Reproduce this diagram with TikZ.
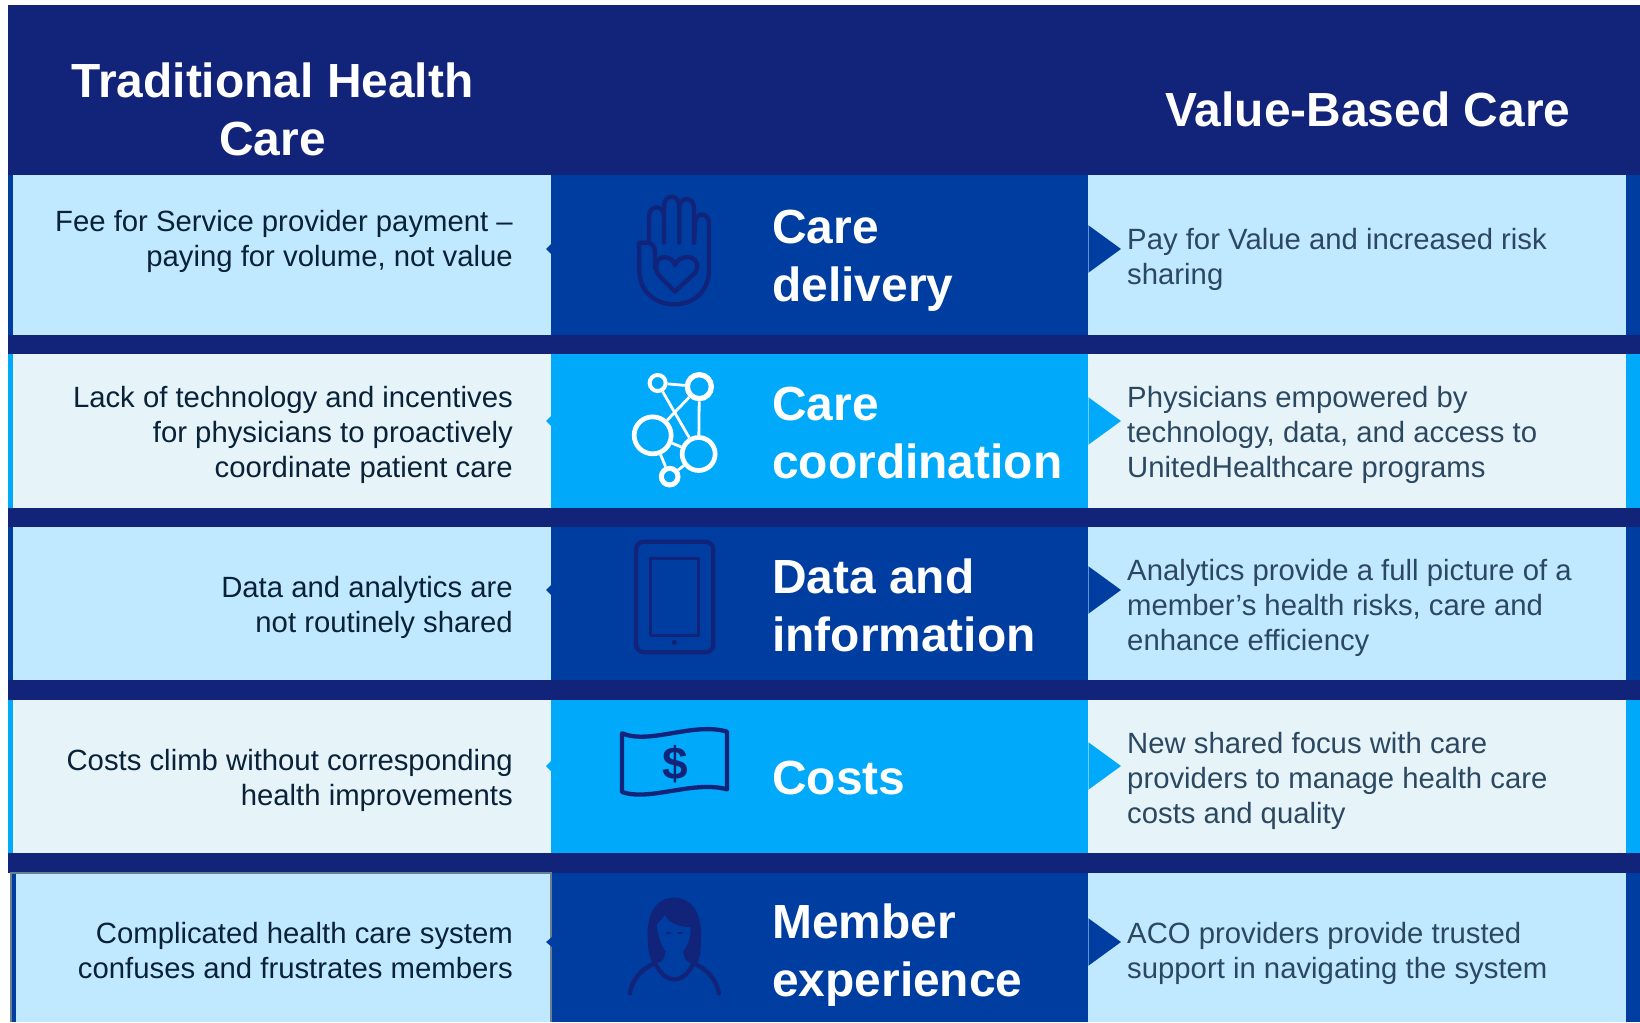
\documentclass[tikz,border=0pt]{standalone}
\usepackage{fontspec}
\setmainfont{Liberation Sans}
\definecolor{navy}{HTML}{12237A}
\definecolor{royal}{HTML}{003DA1}
\definecolor{sky}{HTML}{00A9FA}
\definecolor{lightblue}{HTML}{C0E9FF}
\definecolor{palecyan}{HTML}{E6F4FA}
\definecolor{lefttext}{HTML}{0A2238}
\definecolor{righttext}{HTML}{2C4860}
\tikzset{
  titletext/.style={text=white,font=\fontsize{47.9}{58}\selectfont\bfseries,align=center,inner sep=0pt},
  cattext/.style={text=white,font=\fontsize{47.9}{58}\selectfont\bfseries,align=left,inner sep=0pt,anchor=base west},
  lefttxt/.style={text=lefttext,font=\fontsize{29.3}{35}\selectfont,align=right,inner sep=0pt,anchor=base east},
  righttxt/.style={text=righttext,font=\fontsize{29.3}{35}\selectfont,align=left,inner sep=0pt,anchor=base west},
  iconline/.style={draw=navy,line width=4.3pt,line cap=round,line join=round},
  netnode/.style={circle,draw=white,inner sep=0pt,fill=none},
  netlink/.style={draw=white,line width=2.8pt}
}
% band: top, bottom, band colour, panel colour, arrow mid y
\newcommand{\rowband}[5]{%
  \fill[#4] (13,#1) rectangle (1626,#2);
  \fill[#3] (551,#1) rectangle (1088,#2);
  \fill[#3] (1626,#1) rectangle (1640,#2);
  \fill[#3] (8,#1) rectangle (13,#2);
  \fill[#3] (1088,#5-24) -- (1121,#5) -- (1088,#5+24) -- cycle;
  \draw[draw=#4,line width=.5pt,opacity=.5] (1088,#5-24) -- (1088,#5+24);
  \fill[#3] (551,#5-5) -- (546,#5) -- (551,#5+5) -- cycle;
}
\begin{document}
\begin{tikzpicture}[x=1pt,y=-1pt]
\useasboundingbox (0,0) rectangle (1640,1022);
\fill[white] (0,0) rectangle (1640,1022);
\fill[navy] (8,5) rectangle (1640,1022);
\rowband{175}{335}{royal}{lightblue}{249}
\rowband{354}{508}{sky}{palecyan}{421}
\rowband{527}{680}{royal}{lightblue}{590}
\rowband{700}{853}{sky}{palecyan}{766}
\rowband{873}{1022}{royal}{lightblue}{942}
% last row: shifted left cell with grey outline
\fill[white] (8,873) rectangle (11,1022);
\fill[lightblue] (11,873) rectangle (551,1022);
\fill[royal] (11,873) rectangle (16,1022);
\draw[draw=black!45!lightblue,line width=2pt] (11,1022) -- (11,873) -- (551,873) -- (551,1022);
\fill[royal] (552,937) -- (546,942) -- (552,947) -- cycle;

% titles
\node[titletext] (titleL) at (272.5,109.5) {Traditional Health\\Care};
\node[titletext,anchor=base] (titleR) at (1368,127) {Value-Based Care};

% categories (anchor is the last line's baseline)
\node[cattext] (cat1) at (772,301) {Care\\delivery};
\node[cattext] (cat2) at (772,478) {Care\\coordination};
\node[cattext] (cat3) at (772,651) {Data and\\information};
\node[cattext] (cat4) at (772,794) {Costs};
\node[cattext] (cat5) at (772,996) {Member\\experience};

% left texts
\node[lefttxt] (l1) at (513,266) {Fee for Service provider payment –\\paying for volume, not value};
\node[lefttxt] (l2) at (513,477) {Lack of technology and incentives\\for physicians to proactively\\coordinate patient care};
\node[lefttxt] (l3) at (513,632.5) {Data and analytics are\\not routinely shared};
\node[lefttxt] (l4) at (513,805) {Costs climb without corresponding\\health improvements};
\node[lefttxt] (l5) at (513,978) {Complicated health care system\\confuses and frustrates members};

% right texts
\node[righttxt] (r1) at (1127,284) {Pay for Value and increased risk\\sharing};
\node[righttxt] (r2) at (1127,477) {Physicians empowered by\\technology, data, and access to\\UnitedHealthcare programs};
\node[righttxt] (r3) at (1127,650) {Analytics provide a full picture of a\\member’s health risks, care and\\enhance efficiency};
\node[righttxt] (r4) at (1127,823) {New shared focus with care\\providers to manage health care\\costs and quality};
\node[righttxt] (r5) at (1127,978) {ACO providers provide trusted\\support in navigating the system};

% hand icon
\begin{scope}[shift={(600,170)},x=.33333pt,y=-.33333pt]
\draw[iconline] (165,295) -- (165,245) .. controls (165,228) and (155,218) .. (140,218) -- (118,218) -- (118,300)
  .. controls (118,365) and (165,403) .. (223,403) .. controls (280,403) and (327,365) .. (327,300)
  -- (327,160) .. controls (327,125) and (285,125) .. (285,160) -- (282,218);
\draw[iconline] (282,218) -- (282,115) .. controls (282,78) and (238,78) .. (238,115) -- (238,218);
\draw[iconline] (238,110) .. controls (238,70) and (192,70) .. (192,110) -- (192,218);
\draw[iconline] (192,140) .. controls (192,103) and (147,103) .. (147,140) -- (147,218);
\draw[iconline] (225,285) .. controls (215,255) and (168,250) .. (168,292) .. controls (168,310) and (175,315) .. (225,365)
  .. controls (275,315) and (292,310) .. (292,290) .. controls (292,250) and (235,255) .. (225,285);
\end{scope}

% network icon
\begin{scope}[shift={(600,170)},x=.33333pt,y=-.33333pt]
\node[netnode,line width=4pt,minimum size=16pt] (na) at (173,639) {};
\node[netnode,line width=5.3pt,minimum size=24pt] (nb) at (298,650) {};
\node[netnode,line width=4.7pt,minimum size=37pt] (nc) at (158,796) {};
\node[netnode,line width=4.7pt,minimum size=33pt] (nd) at (296,852) {};
\node[netnode,line width=5pt,minimum size=16.6pt] (ne) at (209,920) {};
\draw[netlink] (na) -- (nb);
\draw[netlink] (na) -- (nd);
\draw[netlink] (nb) -- (nc);
\draw[netlink] (nb) -- (nd);
\draw[netlink] (nc) -- (nd);
\draw[netlink] (nc) -- (ne);
\draw[netlink] (ne) -- (nd);
\end{scope}

% tablet icon
\begin{scope}[shift={(600,520)},x=.33333pt,y=-.33333pt]
\draw[iconline,rounded corners=8pt] (108,65) rectangle (340,397);
\draw[draw=navy,line width=2.6pt,line join=round] (151,115) rectangle (295,347);
\fill[navy] (223,367) circle[radius=2.7pt];
\end{scope}

% money icon
\begin{scope}[shift={(600,520)},x=.33333pt,y=-.33333pt]
\draw[iconline] (66,640) .. controls (150,675) and (280,605) .. (381,635) -- (381,808)
  .. controls (280,780) and (150,845) .. (66,816) -- cycle;
\node[text=navy,font=\fontsize{46}{46}\selectfont\bfseries,inner sep=0pt] (dollar) at (225,732) {\$};
\end{scope}

% person icon
\begin{scope}[shift={(600,520)},x=.33333pt,y=-.33333pt]
\fill[navy] (223,1133) .. controls (272,1133) and (303,1175) .. (303,1240)
  .. controls (303,1285) and (302,1310) .. (292,1328) .. controls (272,1335) and (252,1325) .. (250,1296)
  -- (195,1296) .. controls (195,1325) and (175,1335) .. (155,1325)
  .. controls (145,1300) and (143,1280) .. (143,1240) .. controls (143,1175) and (172,1133) .. (223,1133) -- cycle;
\fill[royal] (195,1185) .. controls (205,1210) and (240,1222) .. (272,1222)
  .. controls (274,1265) and (250,1308) .. (223,1308) .. controls (195,1308) and (178,1270) .. (170,1215) -- cycle;
\draw[iconline] (90,1420) .. controls (95,1380) and (125,1345) .. (165,1330)
  .. controls (180,1360) and (200,1378) .. (223,1378) .. controls (246,1378) and (266,1360) .. (280,1330)
  .. controls (320,1345) and (350,1380) .. (357,1420);
\draw[draw=navy,line width=2pt,line cap=round] (200,1238) -- (210,1238) (236,1238) -- (246,1238);
\end{scope}
\end{tikzpicture}
\end{document}
